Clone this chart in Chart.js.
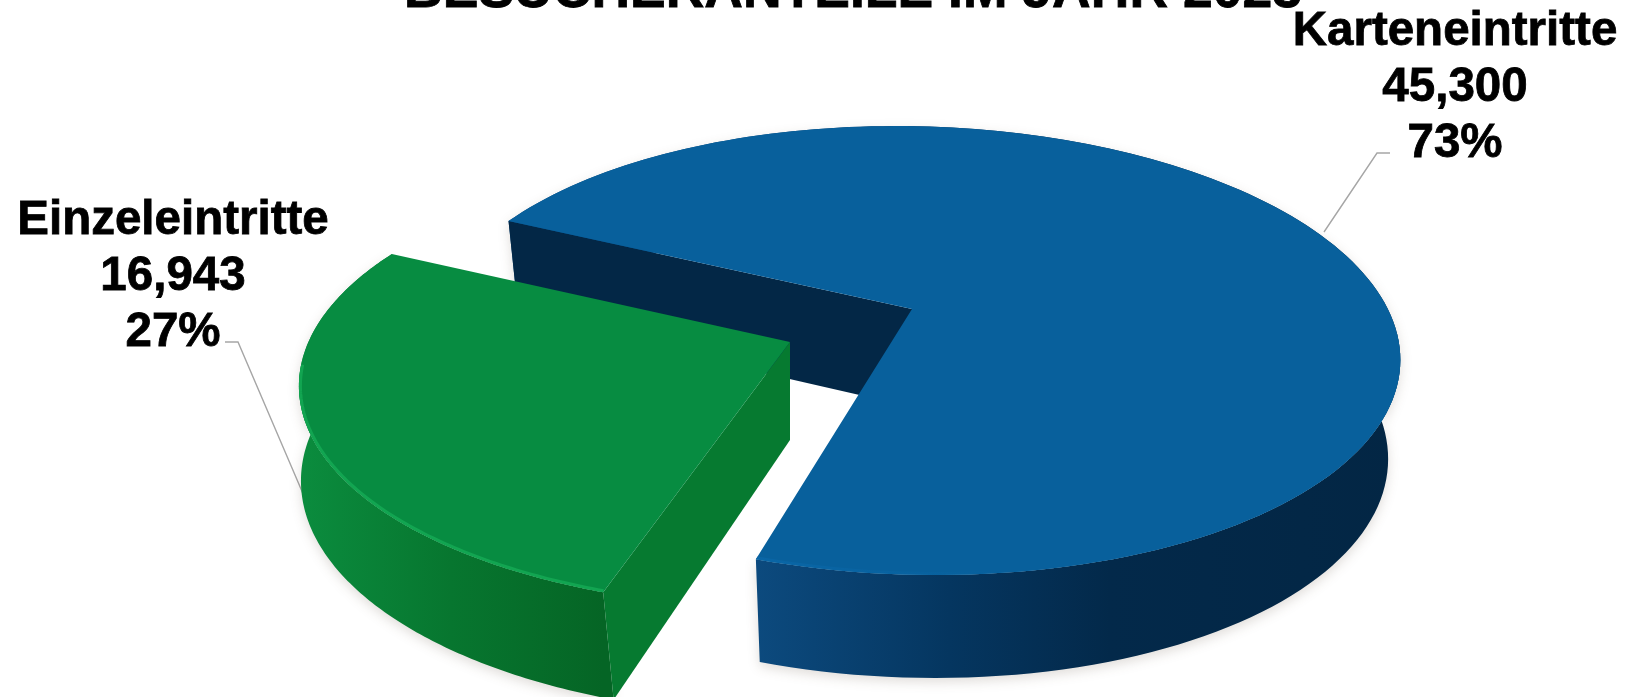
<!DOCTYPE html>
<html lang="de">
<head>
<meta charset="utf-8">
<title>Besucheranteile</title>
<script src="https://cdn.jsdelivr.net/npm/chart.js@4"></script>
<style>
  html, body { margin: 0; padding: 0; background: #fff; overflow: hidden; }
  canvas { display: block; }
</style>
</head>
<body>
<canvas id="pie" width="1626" height="697"></canvas>
<script>
// Daten
const categories = ["Karteneintritte", "Einzeleintritte"];
const visitors = [45300, 16943];
const shares = ["73%", "27%"];
const valueLabels = ["45,300", "16,943"];
const chartTitle = "BESUCHERANTEILE IM JAHR 2023";

// Farben je Segment
const topColors = ["#08609c", "#078c41"];
const rimColors = ["#0b6cb0", "#12a551"];
const wallStops = [
  [[0, "#0c4a7e"], [0.3, "#053660"], [0.55, "#03294a"], [1, "#032644"]],
  [[0, "#0b8c3e"], [0.5, "#07762f"], [1, "#056525"]]
];
const innerWallColors = ["#032746", "#067a30"];

// Layout der 3D-Ansicht
const FONT = 'bold 47.5px "Liberation Sans", Arial, sans-serif';
const TITLE_FONT = 'bold 53.5px "Liberation Sans", Arial, sans-serif';
const SQUASH_X = 1.54;      // Breite relativ zum Chart.js Radius
const SQUASH_Y = 0.7016;    // Hoehe relativ zum Chart.js Radius
const PERSPECTIVE = 0.185;
const DEPTH = 98;
const sliceShift = [[0, 0], [-122, 33]];
const sliceSkew = [0.22, -0.06];    // Fluchtpunkt liegt zwischen den Segmenten
const sliceScale = [1, 1.012];
const bottomScale = [0.975, 1];
const bottomLean = [0, 11];
const bottomGrow = [5, 10];

const labelBoxes = [
  { x: 1455, y: 45, leader: [[1390, 153], [1377, 153], [1324, 232]] },
  { x: 173, y: 234, leader: [[225, 342], [238, 342], [316, 524]] }
];

// Projiziert einen Punkt der Kreisflaeche (u, v) auf den Canvas
function project(arc, i, u, v, bottom) {
  const d = 1 - PERSPECTIVE * v;
  const rx = arc.outerRadius * SQUASH_X * sliceScale[i];
  let x = rx * u / d + rx * sliceSkew[i] * (1 / d - 1);
  let y = arc.outerRadius * SQUASH_Y * v / d;
  if (bottom) {
    x = x * bottomScale[i] + bottomLean[i] * v;
    y += DEPTH + bottomGrow[i] * v;
  }
  return [arc.x + sliceShift[i][0] + x, arc.y + sliceShift[i][1] + y];
}

function rimPoints(arc, i, bottom) {
  const pts = [];
  const steps = 160;
  for (let s = 0; s <= steps; s++) {
    const a = arc.startAngle + (arc.endAngle - arc.startAngle) * s / steps;
    pts.push(project(arc, i, Math.cos(a), Math.sin(a), bottom));
  }
  return pts;
}

function tracePolygon(ctx, pts) {
  ctx.beginPath();
  pts.forEach((p, n) => (n ? ctx.lineTo(p[0], p[1]) : ctx.moveTo(p[0], p[1])));
  ctx.closePath();
}

function drawSlice(ctx, arc, i) {
  const top = rimPoints(arc, i, false);
  const bottom = rimPoints(arc, i, true);
  const centerTop = project(arc, i, 0, 0, false);
  const centerBottom = project(arc, i, 0, 0, true);
  const xs = top.map(p => p[0]);
  const left = Math.min(...xs);
  const right = Math.max(...xs);
  const frontX = top[i === 0 ? top.length - 1 : 0][0];

  // Aussenwand mit weichem Schatten
  const grad = ctx.createLinearGradient(i === 0 ? frontX : left, 0, i === 0 ? right : frontX, 0);
  wallStops[i].forEach(s => grad.addColorStop(s[0], s[1]));
  ctx.save();
  ctx.shadowColor = "rgba(60,40,20,0.16)";
  ctx.shadowBlur = 12;
  ctx.shadowOffsetY = 4;
  ctx.fillStyle = grad;
  tracePolygon(ctx, top.concat(bottom.slice().reverse()));
  ctx.fill();
  ctx.restore();

  // Schnittwand an der Startkante: blau hinten links, gruen vorne rechts
  ctx.fillStyle = innerWallColors[i];
  tracePolygon(ctx, [top[0], centerTop, centerBottom, bottom[0]]);
  ctx.fill();

  // Deckflaeche
  const face = [centerTop].concat(top);
  ctx.fillStyle = topColors[i];
  tracePolygon(ctx, face);
  ctx.fill();

  // heller Rand vorne, auf die Deckflaeche begrenzt
  ctx.save();
  tracePolygon(ctx, face);
  ctx.clip();
  const rimGrad = ctx.createLinearGradient(left, 0, right, 0);
  rimGrad.addColorStop(0, rimColors[i]);
  rimGrad.addColorStop(i === 0 ? 0.55 : 1, i === 0 ? topColors[i] : rimColors[i]);
  ctx.strokeStyle = rimGrad;
  ctx.lineWidth = 6;
  ctx.lineJoin = "round";
  ctx.beginPath();
  let started = false;
  top.forEach((p, n) => {
    const a = arc.startAngle + (arc.endAngle - arc.startAngle) * n / (top.length - 1);
    if (Math.sin(a) > 0.1) {
      if (started) ctx.lineTo(p[0], p[1]);
      else ctx.moveTo(p[0], p[1]);
      started = true;
    }
  });
  ctx.stroke();
  ctx.restore();
}

// Text etwas kraeftiger, wie in der Vorlage
function heavyText(ctx, text, x, y) {
  ctx.fillText(text, x, y);
  ctx.strokeText(text, x, y);
}

const pie3d = {
  id: "pie3d",
  beforeDatasetsDraw(chart) {
    const ctx = chart.ctx;
    const arcs = chart.getDatasetMeta(0).data;
    ctx.save();

    // Fuehrungslinien
    ctx.strokeStyle = "#a6a6a6";
    ctx.lineWidth = 1.4;
    labelBoxes.forEach(box => {
      ctx.beginPath();
      box.leader.forEach((p, n) => (n ? ctx.lineTo(p[0], p[1]) : ctx.moveTo(p[0], p[1])));
      ctx.stroke();
    });

    arcs.forEach((arc, i) => drawSlice(ctx, arc, i));
    ctx.restore();
    return false;
  },
  afterDraw(chart) {
    const ctx = chart.ctx;
    ctx.save();
    ctx.fillStyle = "#000";
    ctx.strokeStyle = "#000";
    ctx.lineWidth = 0.8;
    ctx.textAlign = "center";
    ctx.textBaseline = "alphabetic";
    ctx.font = TITLE_FONT;
    heavyText(ctx, chartTitle, 853, 7);
    ctx.font = FONT;
    categories.forEach((name, i) => {
      const box = labelBoxes[i];
      heavyText(ctx, name, box.x, box.y);
      heavyText(ctx, valueLabels[i], box.x, box.y + 56);
      heavyText(ctx, shares[i], box.x, box.y + 112);
    });
    ctx.restore();
  }
};

new Chart(document.getElementById("pie").getContext("2d"), {
  type: "pie",
  data: {
    labels: categories,
    datasets: [{
      data: visitors,
      backgroundColor: topColors,
      borderWidth: 0
    }]
  },
  options: {
    responsive: false,
    animation: false,
    rotation: 296,
    layout: { padding: { left: 198, bottom: 79 } },
    plugins: {
      legend: { display: false },
      tooltip: { enabled: false }
    }
  },
  plugins: [pie3d]
});
</script>
</body>
</html>
